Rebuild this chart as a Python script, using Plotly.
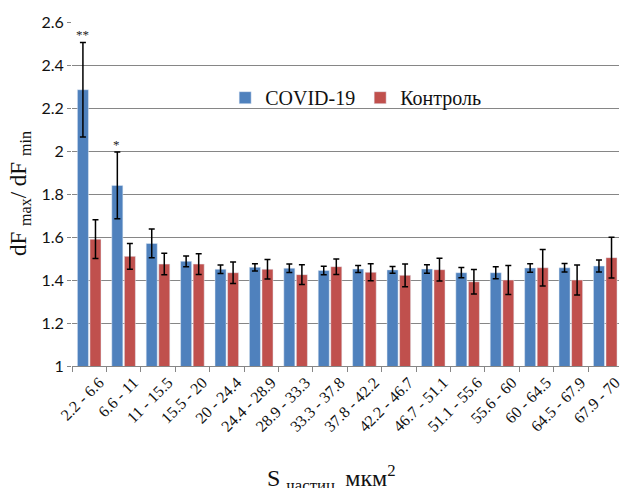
import plotly.graph_objects as go

categories = ["2.2 - 6.6", "6.6 - 11", "11 - 15.5", "15.5 - 20", "20 - 24.4", "24.4 - 28.9",
              "28.9 - 33.3", "33.3 - 37.8", "37.8 - 42.2", "42.2 - 46.7", "46.7 - 51.1",
              "51.1 - 55.6", "55.6 - 60", "60 - 64.5", "64.5 - 67.9", "67.9 - 70"]
covid = [2.285, 1.84, 1.57, 1.487, 1.45, 1.459, 1.455, 1.444, 1.451, 1.447, 1.451,
         1.434, 1.434, 1.456, 1.457, 1.465]
covid_err = [0.22, 0.155, 0.067, 0.025, 0.02, 0.017, 0.02, 0.02, 0.016, 0.016, 0.02,
             0.024, 0.028, 0.02, 0.02, 0.028]
control = [1.59, 1.51, 1.474, 1.474, 1.434, 1.45, 1.425, 1.462, 1.436, 1.422, 1.448,
           1.392, 1.40, 1.457, 1.40, 1.504]
control_err = [0.09, 0.06, 0.05, 0.048, 0.05, 0.045, 0.046, 0.036, 0.04, 0.053, 0.053,
               0.057, 0.067, 0.085, 0.07, 0.095]
y_ticks = [1, 1.2, 1.4, 1.6, 1.8, 2, 2.2, 2.4, 2.6]
y_ticklabels = ["1", "1.2", "1.4", "1.6", "1.8", "2", "2.2", "2.4", "2.6"]
marks = ["**", "*"]

serif = "Liberation Serif"
sans = "Lato"

err_style = dict(type="data", color="black", thickness=1.5, width=3)

fig = go.Figure()
fig.add_trace(go.Bar(x=categories, y=covid, name="COVID-19", marker_color="#4F81BD",
                     error_y=dict(array=covid_err, **err_style)))
fig.add_trace(go.Bar(x=categories, y=control, name="Контроль", marker_color="#C0504D",
                     error_y=dict(array=control_err, **err_style)))

for i, m in enumerate(marks):
    fig.add_annotation(x=categories[i], y=covid[i] + covid_err[i], text=m, showarrow=False,
                       xshift=-7, yshift=8, font=dict(family=serif, size=13, color="#222"),
                       xref="x", yref="y")

fig.add_annotation(text="S <sub>частиц,</sub> мкм<sup>2</sup>", xref="paper", yref="paper",
                   x=0.474, y=-0.325, showarrow=False, xanchor="center", yanchor="middle",
                   font=dict(family=serif, size=24, color="#111"))
fig.add_annotation(text="dF <sub>max</sub>/ dF <sub>min</sub>", xref="paper", yref="paper",
                   x=-0.095, y=0.5, showarrow=False, textangle=-90, xanchor="center",
                   yanchor="middle", font=dict(family=serif, size=23, color="#111"))

fig.update_layout(
    width=623, height=488,
    margin=dict(l=72, r=0, t=22, b=122),
    paper_bgcolor="white", plot_bgcolor="white",
    barmode="group", bargap=0.27, bargroupgap=0.12,
    showlegend=True,
    legend=dict(orientation="h", x=0.28, y=0.78, xanchor="left", yanchor="middle",
                font=dict(family=serif, size=20, color="#111"), bgcolor="rgba(0,0,0,0)",
                itemwidth=30, traceorder="normal"),
    xaxis=dict(range=[-0.5, 15.4], tickangle=-45, tickson="boundaries", ticks="outside",
               ticklen=5, tickcolor="#868686", showline=True, linecolor="#868686",
               linewidth=1, showgrid=False, ticklabelshift=10,
               tickfont=dict(family=serif, size=16, color="#111")),
    yaxis=dict(range=[1, 2.6], tickvals=y_ticks, ticktext=y_ticklabels, showgrid=True,
               gridcolor="#868686", gridwidth=1, zeroline=False, showline=False,
               ticks="outside", ticklen=4, tickcolor="#868686",
               tickfont=dict(family=sans, size=16, color="#111")),
)

fig.write_html("out.html")
